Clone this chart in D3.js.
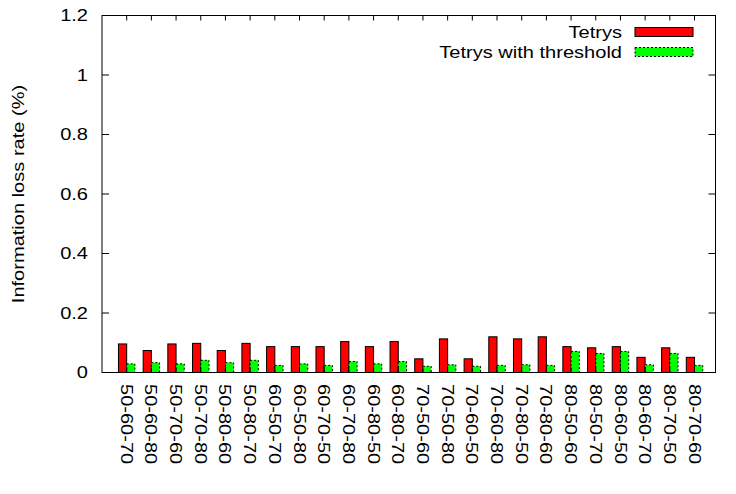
<!DOCTYPE html>
<html><head><meta charset="utf-8">
<script src="https://cdn.jsdelivr.net/npm/d3@7"></script>
<style>body{margin:0;background:#fff}svg{display:block}text{font-family:"Liberation Sans",Arial,sans-serif;fill:#000}</style>
</head><body>
<script>
const categories = ["50-60-70","50-60-80","50-70-60","50-70-80","50-80-60","50-80-70","60-50-70","60-50-80","60-70-50","60-70-80","60-80-50","60-80-70","70-50-60","70-50-80","70-60-50","70-60-80","70-80-50","70-80-60","80-50-60","80-50-70","80-60-50","80-60-70","80-70-50","80-70-60"];
const tetrys = [0.096,0.074,0.096,0.098,0.074,0.098,0.087,0.087,0.087,0.104,0.087,0.104,0.046,0.113,0.046,0.120,0.113,0.120,0.087,0.083,0.087,0.051,0.083,0.051];
const tetrysThreshold = [0.029,0.033,0.029,0.041,0.033,0.041,0.024,0.029,0.024,0.037,0.029,0.037,0.021,0.026,0.021,0.024,0.026,0.024,0.071,0.064,0.071,0.026,0.064,0.024];
const yTicks = [0,0.2,0.4,0.6,0.8,1,1.2];
const seriesNames = ["Tetrys","Tetrys with threshold"];

const W=736,H=494, L=102, R=715.5, T=15.5, B=372.5;
const FS=17, SX=1.18;
const svg=d3.select("body").append("svg").attr("width",W).attr("height",H);
const x=d3.scaleLinear().domain([-1,23.85]).range([L,R]);
const y=d3.scaleLinear().domain([0,1.2]).range([B,T]);
const bw = x(1/3)-x(0);

// bars
const g=svg.append("g");
g.selectAll(".red").data(tetrys).join("rect")
 .attr("x",(d,i)=>x(i)-bw).attr("y",d=>y(d)).attr("width",bw).attr("height",d=>B-y(d))
 .attr("fill","#ff0000").attr("stroke","#000").attr("stroke-width",1);
g.selectAll(".grn").data(tetrysThreshold).join("rect")
 .attr("x",(d,i)=>x(i)).attr("y",d=>y(d)).attr("width",bw).attr("height",d=>B-y(d))
 .attr("fill","#00ff00").attr("stroke","#000").attr("stroke-width",1).attr("stroke-dasharray","2,2");

// frame
svg.append("rect").attr("x",L).attr("y",T).attr("width",R-L).attr("height",B-T)
 .attr("fill","none").attr("stroke","#000").attr("stroke-width",1);

// y ticks
const yt=svg.append("g");
yTicks.forEach(v=>{
  yt.append("line").attr("x1",L).attr("x2",L+7).attr("y1",y(v)).attr("y2",y(v)).attr("stroke","#000");
  yt.append("line").attr("x1",R).attr("x2",R-7).attr("y1",y(v)).attr("y2",y(v)).attr("stroke","#000");
  yt.append("text").attr("transform",`translate(88,${y(v)}) scale(${SX},1)`)
    .attr("text-anchor","end").attr("dominant-baseline","central").attr("font-size",FS).text(d3.format("~g")(v));
});
// x ticks + labels
categories.forEach((c,i)=>{
  yt.append("line").attr("x1",x(i)).attr("x2",x(i)).attr("y1",T).attr("y2",T+5).attr("stroke","#000");
  yt.append("line").attr("x1",x(i)).attr("x2",x(i)).attr("y1",B).attr("y2",B-5).attr("stroke","#000");
  yt.append("text").attr("transform",`translate(${x(i)},384) rotate(90) scale(${SX},1)`)
    .attr("text-anchor","start").attr("dominant-baseline","central").attr("font-size",FS).text(c);
});
// y title
svg.append("text").attr("transform",`translate(18,${(T+B)/2}) rotate(-90) scale(${SX},1)`)
 .attr("text-anchor","middle").attr("dominant-baseline","central").attr("font-size",FS).text("Information loss rate (%)");

// legend
const leg=svg.append("g");
const rows=[{n:seriesNames[0],f:"#ff0000",d:null,yc:32},{n:seriesNames[1],f:"#00ff00",d:"2,2",yc:52}];
rows.forEach(r=>{
  leg.append("text").attr("transform",`translate(622,${r.yc}) scale(${SX},1)`)
   .attr("text-anchor","end").attr("dominant-baseline","central").attr("font-size",FS).text(r.n);
  leg.append("rect").attr("x",635).attr("y",r.yc-4.5).attr("width",58).attr("height",9)
   .attr("fill",r.f).attr("stroke","#000").attr("stroke-dasharray",r.d);
});
</script>
</body></html>
